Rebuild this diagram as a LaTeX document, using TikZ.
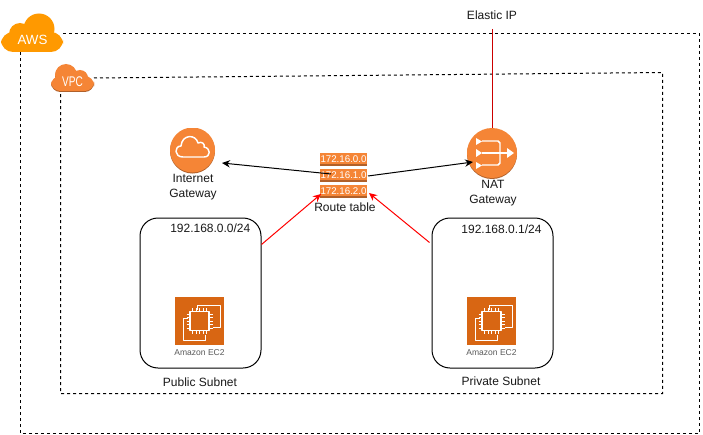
\documentclass[tikz,border=0pt]{standalone}
\usepackage{fontspec}
\usepackage{graphicx}
\setmainfont{Liberation Sans}
\usetikzlibrary{arrows.meta}
\definecolor{awsorange}{HTML}{FF9900}
\definecolor{icono}{HTML}{F58536}
\definecolor{icond}{HTML}{B0602A}
\definecolor{ecorange}{HTML}{D86613}
\definecolor{redline}{HTML}{FF0000}
\definecolor{darkred}{HTML}{CC0000}
\tikzset{
  lbl/.style={font=\fontsize{9}{11.25}\selectfont,align=center,inner sep=0pt,text=black!90},
  zone/.style={draw=black,dash pattern=on 2.25pt off 2.25pt,line width=.75pt},
  subnet/.style={draw=black,line width=.75pt,rounded corners=13.5pt,fill=white},
  blackarrow/.style={draw=black,line width=.75pt,-{Stealth[length=6pt,width=5.5pt]}},
  redarrow/.style={draw=redline,line width=.75pt,-{Stealth[length=6pt,width=5.5pt]}},
  rtrow/.style={fill=icono,draw=none,minimum width=35.25pt,minimum height=8.6pt,inner sep=0pt,text=white,font=\fontsize{7.3}{8}\selectfont},
  iconwhite/.style={draw=white,line width=.9pt,line join=round},
}
\begin{document}
\begin{tikzpicture}[x=.75pt,y=-.75pt]
\useasboundingbox (0,0) rectangle (703,435);
\fill[white] (0,0) rectangle (703,435);
% zones
\draw[zone] (63,33.5) -- (699.5,33.5) -- (699.5,433.5) -- (20.5,433.5) -- (20.5,52);
\draw[zone] (94,78) -- (662.5,72.5) -- (662.5,393.5) -- (60.5,393.5) -- (60.5,92);
% AWS cloud
\fill[awsorange] (39,29) circle[radius=15.5] (20,34) circle[radius=11];
\fill[awsorange,rounded corners=9pt] (1,32) rectangle (63,52);
\node[lbl,text=white,font=\fontsize{10}{12}\selectfont] (aws) at (32.5,40) {AWS};
% VPC cloud
\fill[icond] (66,76) circle[radius=11] (80,79) circle[radius=8];
\fill[icond,rounded corners=7pt] (51,77) rectangle (94,92);
\fill[icono] (66,75) circle[radius=11] (80,78) circle[radius=8];
\fill[icono,rounded corners=7pt] (51,76) rectangle (94,91);
\node[lbl,text=white,font=\fontsize{10.5}{12}\selectfont] (vpc) at (72.5,82) {\scalebox{.72}[1]{VPC}};
% Internet gateway
\coordinate (igw) at (192.5,150.5);
\begin{scope}
\clip (165,128) rectangle (220,180);
\fill[icond] (192.5,151) circle[radius=22.5];
\fill[icono] (192.5,150) circle[radius=22.5];
\end{scope}
\draw[iconwhite,line width=1.1pt] (183,157) .. controls (174,157) and (174,146) .. (181,146)
  .. controls (182,134) and (196,134) .. (198,143)
  .. controls (202,141) and (205,144) .. (204,147)
  .. controls (211,148) and (211,157) .. (204,157) -- cycle;
\node[lbl] (igwl) at (193,187.5) {Internet\\Gateway};
% NAT gateway
\coordinate (nat) at (492,153.5);
\fill[icond] (492,154) circle[radius=25];
\fill[icono] (492,153) circle[radius=25];
\node[lbl] (natl) at (493,193.5) {NAT\\Gateway};
\draw[iconwhite,line width=1.1pt] (482,141) -- (498,141) -- (500,143) -- (500,163) -- (498,165) -- (482,165);
\draw[iconwhite,line width=1.1pt] (482,153) -- (508,153);
\fill[white] (476,138) -- (482,141.5) -- (476,145) -- cycle
 (476,149) -- (482,153) -- (476,157) -- cycle
 (476,162) -- (482,165.5) -- (476,169) -- cycle
 (507,148) -- (514,153) -- (507,158) -- cycle;
% Route table
\foreach \yy/\t/\n in {159/172.16.0.0/rta,175/172.16.1.0/rtb,191/172.16.2.0/rtc}{
  \fill[icond] (320,\yy+5) rectangle (367,\yy+7);
  \node[rtrow] (\n) at (343.5,\yy-.3) {\t};
}
\node[lbl] (rtl) at (345,207) {Route table};
% Subnets
\node[subnet,minimum width=90.75pt,minimum height=112.5pt,inner sep=0pt] (pub) at (200.5,293) {};
\node[subnet,minimum width=90.75pt,minimum height=112.5pt,inner sep=0pt] (pri) at (492.5,293) {};
\node[lbl] (pubt) at (210.3,228) {192.168.0.0/24};
\node[lbl] (prit) at (501.5,229) {192.168.0.1/24};
\node[lbl] (publ) at (200,382) {Public Subnet};
\node[lbl] (pril) at (501,381) {Private Subnet};
% EC2
\foreach \cx/\n in {199.5/ecpub,491.5/ecpri}{
  \begin{scope}[shift={(\cx,321)}]
  \fill[ecorange] (-24.5,-24) rectangle (24.5,24);
  \draw[iconwhite,line width=.6pt] (-2.5,-11.5) -- (-2.5,-16) -- (20.5,-16) -- (20.5,6) -- (13,6);
  \draw[iconwhite,line width=.6pt] (-12,-3) -- (-16.5,-3) -- (-16.5,19) -- (5.5,19) -- (5.5,14);
  \draw[iconwhite,line width=.9pt] (-9.5,-9.5) rectangle (9.5,9.5);
  \foreach \k in {-7,-3.5,0,3.5,7}{
    \draw[white,line width=.4pt] (\k,-13) -- (\k,-9.5) (\k,9.5) -- (\k,13) (-13,\k) -- (-9.5,\k) (9.5,\k) -- (13,\k);
  }
  \end{scope}
  \node[lbl,text=black!65,font=\fontsize{6.4}{7}\selectfont] (\n) at (\cx,353) {Amazon EC2};
}
% Elastic IP
\node[lbl] (eip) at (492,15) {Elastic IP};
\coordinate (eipb) at (492.5,29);
\coordinate (natt) at (492.5,128);
\draw[draw=darkred,line width=1pt] (eipb) -- (natt);
% Connectors
\coordinate (rtw) at (331,174);
\coordinate (igwe) at (222,163);
\coordinate (rte) at (368,176);
\coordinate (natw) at (473,162);
\coordinate (rtsw) at (321,194);
\coordinate (rtse) at (369,193);
\draw[blackarrow] (rtw) -- (igwe);
\draw[blackarrow] (rte) -- (natw);
\draw[redarrow] (pub.north east) ++(0,27) -- (rtsw);
\draw[redarrow] (pri.north west) ++(-2,25) -- (rtse);
\end{tikzpicture}
\end{document}
